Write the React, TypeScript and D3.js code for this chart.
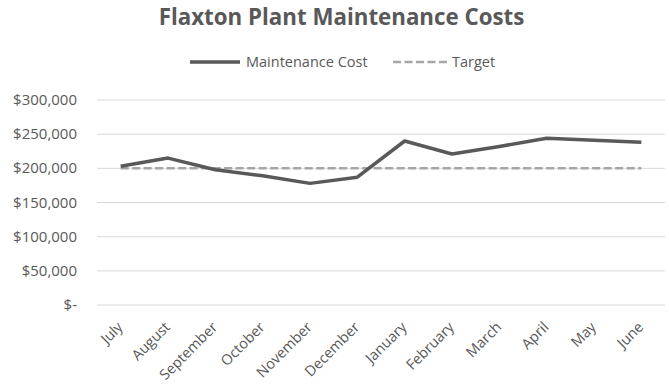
import React from "react";
import * as d3 from "d3";

const months = ["July","August","September","October","November","December","January","February","March","April","May","June"];
const maintenanceCost = [203000,215000,198000,189000,178000,187000,240000,221000,232000,244000,241000,238000];
const target = [200000,200000,200000,200000,200000,200000,200000,200000,200000,200000,200000,200000];
const yTicks = [0,50000,100000,150000,200000,250000,300000];

const W = 669, H = 387;
const margin = { left: 97, right: 4, top: 100, bottom: 82 };

export default function App() {
  const x = d3.scaleBand<string>().domain(months).range([margin.left, W - margin.right]);
  const y = d3.scaleLinear().domain([0, 300000]).range([H - margin.bottom, margin.top]);
  const cx = (m: string) => (x(m) as number) + x.bandwidth() / 2;
  const line = d3.line<number>().x((_, i) => cx(months[i])).y(d => y(d));
  const fmt = (v: number) => v === 0 ? "$-" : "$" + d3.format(",")(v);
  const font = "'Open Sans', sans-serif";
  const textColor = "#595959";
  return (
    <svg width={W} height={H} style={{ position: "absolute", left: 0, top: 0, background: "#fff" }}>
      <text x={341.5} y={25} textAnchor="middle" fontFamily={font} fontWeight={700} fontSize={22.3} fill={textColor}>Flaxton Plant Maintenance Costs</text>
      <g>
        <line x1={190} x2={240} y1={62} y2={62} stroke="#595959" strokeWidth={3.5} />
        <text x={246} y={67} fontFamily={font} fontSize={14.5} fill={textColor}>Maintenance Cost</text>
        <line x1={393} x2={449} y1={62} y2={62} stroke="#A6A6A6" strokeWidth={2.5} strokeDasharray="8,3.5" />
        <text x={452} y={67} fontFamily={font} fontSize={14.5} fill={textColor}>Target</text>
      </g>
      {yTicks.map(t => (
        <g key={t}>
          <line x1={margin.left} x2={W - margin.right} y1={y(t)} y2={y(t)} stroke="#D9D9D9" strokeWidth={1} />
          <text x={77} y={y(t) + 5} textAnchor="end" fontFamily={font} fontSize={15} fill={textColor}>{fmt(t)}</text>
        </g>
      ))}
      {months.map(m => (
        <text key={m} transform={`translate(${cx(m) + 3},${H - margin.bottom + 23}) rotate(-45)`} textAnchor="end" fontFamily={font} fontSize={14.5} fill={textColor}>{m}</text>
      ))}
      <path d={line(target) || ""} fill="none" stroke="#A6A6A6" strokeWidth={2.5} strokeDasharray="8,3.5" />
      <path d={line(maintenanceCost) || ""} fill="none" stroke="#595959" strokeWidth={3.5} strokeLinejoin="round" />
    </svg>
  );
}
